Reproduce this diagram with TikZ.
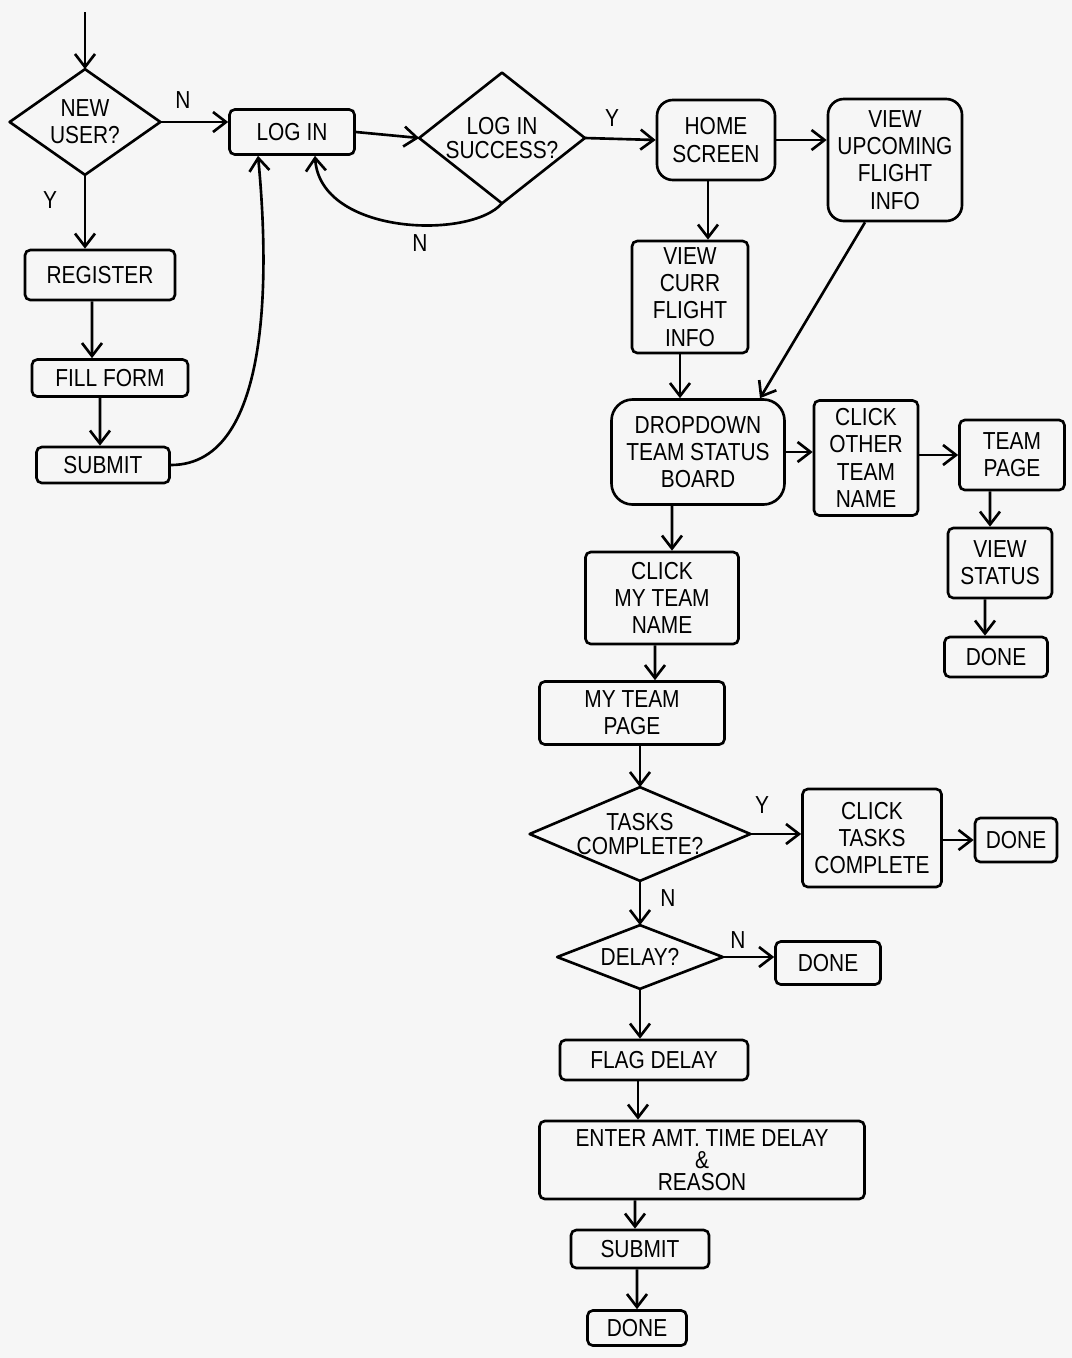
\documentclass[tikz,border=0pt]{standalone}
\usepackage{fontspec}
\setmainfont[FakeStretch=0.85]{Liberation Sans}
\usepackage{tikz}
\usetikzlibrary{arrows.meta}
\definecolor{paper}{HTML}{F6F6F6}
\newcommand{\hand}{\fontsize{14}{15.5}\selectfont}
\tikzset{
  fbox/.style ={rectangle, rounded corners=3pt, draw=black, line width=1.5pt,
                align=center, inner sep=2pt, font=\hand},
  rbox/.style ={fbox, rounded corners=9pt},
  dec/.style  ={rectangle, inner sep=0pt, align=center, font=\hand},
  dline/.style={draw=black, line width=1.5pt, line join=round},
  arr/.style  ={-{Straight Barb[length=2.6mm,width=4mm]}, line width=1.5pt},
  yn/.style   ={font=\hand, inner sep=1pt},
}
\newcommand{\diam}[1]{\path[dline] (#1.north) -- (#1.east) -- (#1.south) -- (#1.west) -- cycle;}

\begin{document}
\begin{tikzpicture}[x=0.2mm,y=-0.2mm]
  \path[fill=paper] (0,0) rectangle (1072,1358);

  % sign-up and log in
  \coordinate (start) at (85,12);
  \node[dec, minimum width=30mm, minimum height=21mm] (newuser) at (85,122) {NEW\\USER?};
  \diam{newuser}
  \node[fbox, minimum width=30mm, minimum height=10mm] (register) at (100,275) {REGISTER};
  \node[fbox, minimum width=31.2mm, minimum height=7.4mm] (fillform) at (110,378) {FILL FORM};
  \node[fbox, minimum width=26.6mm, minimum height=7.2mm] (submita) at (103,465) {SUBMIT};
  \node[fbox, minimum width=25mm, minimum height=9mm] (login) at (292,132) {LOG IN};
  \node[dec, minimum width=33mm, minimum height=26mm] (logok) at (502,138) {LOG IN\\[-2pt]SUCCESS?};
  \diam{logok}

  % home and flight info
  \node[rbox, minimum width=23.6mm, minimum height=16mm] (home) at (716,140) {HOME\\SCREEN};
  \node[rbox, minimum width=26.8mm, minimum height=24.4mm] (upcoming) at (895,160) {VIEW\\UPCOMING\\FLIGHT\\INFO};
  \node[fbox, minimum width=23.2mm, minimum height=22.4mm] (curr) at (690,297) {VIEW\\CURR\\FLIGHT\\INFO};
  \node[fbox, rounded corners=12pt, minimum width=34.6mm, minimum height=21mm] (dropdown) at (698,452) {DROPDOWN\\TEAM STATUS\\BOARD};

  % other team
  \node[fbox, minimum width=20.8mm, minimum height=23mm] (other) at (866,458) {CLICK\\OTHER\\TEAM\\NAME};
  \node[fbox, minimum width=21mm, minimum height=14mm] (teampage) at (1012,455) {TEAM\\PAGE};
  \node[fbox, minimum width=20.8mm, minimum height=14mm] (viewstatus) at (1000,563) {VIEW\\STATUS};
  \node[fbox, minimum width=20.6mm, minimum height=8mm] (donea) at (996,657) {DONE};

  % my team
  \node[fbox, minimum width=30.6mm, minimum height=18.4mm] (myname) at (662,598) {CLICK\\MY TEAM\\NAME};
  \node[fbox, minimum width=37mm, minimum height=12.6mm] (mypage) at (632,713) {MY TEAM\\PAGE};
  \node[dec, minimum width=44mm, minimum height=18.6mm] (tasks) at (640,834) {TASKS\\[-2pt]COMPLETE?};
  \diam{tasks}
  \node[fbox, minimum width=27.8mm, minimum height=19.6mm] (clicktasks) at (872,838) {CLICK\\TASKS\\COMPLETE};
  \node[fbox, minimum width=16.4mm, minimum height=8.8mm] (doneb) at (1016,840) {DONE};
  \node[dec, minimum width=33mm, minimum height=12.6mm] (delay) at (640,957) {DELAY?};
  \diam{delay}
  \node[fbox, minimum width=21mm, minimum height=8.6mm] (donec) at (828,963) {DONE};
  \node[fbox, minimum width=37.6mm, minimum height=8mm] (flag) at (654,1060) {FLAG DELAY};
  \node[fbox, minimum width=65mm, minimum height=15.6mm] (enter) at (702,1160) {ENTER AMT. TIME DELAY\\[-3pt]\&\\[-3pt]REASON};
  \node[fbox, minimum width=27.6mm, minimum height=7.6mm] (submitb) at (640,1249) {SUBMIT};
  \node[fbox, minimum width=19.8mm, minimum height=7mm] (doned) at (637,1328) {DONE};

  % Y / N labels
  \node[yn] (nnew)   at (183,100) {N};
  \node[yn] (ynew)   at (50,200)  {Y};
  \node[yn] (nlog)   at (420,243) {N};
  \node[yn] (ylog)   at (612,118) {Y};
  \node[yn] (ytasks) at (762,805) {Y};
  \node[yn] (ntasks) at (668,898) {N};
  \node[yn] (ndelay) at (738,940) {N};

  % connectors
  \draw[arr] (start) -- (newuser.north);
  \draw[arr] (newuser.east) -- (newuser.east -| login.west);
  \draw[arr] (newuser.south) -- (newuser.south |- register.north);
  \draw[arr] ([xshift=-1.6mm]register.south) -- ([xshift=-3.6mm]fillform.north);
  \draw[arr] ([xshift=-2mm]fillform.south) -- ([xshift=-0.6mm]submita.north);
  \draw[arr] (submita.east) .. controls (275,465) and (268,260) .. ([xshift=-6.8mm]login.south);
  \draw[arr] (login.east) -- (logok.west);
  \draw[arr] (logok.south) .. controls (470,240) and (320,235) .. ([xshift=4.6mm]login.south);
  \draw[arr] (logok.east) -- (home.west);
  \draw[arr] (home.east) -- (home.east -| upcoming.west);
  \draw[arr] ([xshift=-1.6mm]home.south) -- ([xshift=-1.6mm]home.south |- curr.north);
  \draw[arr] ([xshift=-2mm]curr.south) -- ([xshift=-2mm]curr.south |- dropdown.north);
  \draw[arr] ([xshift=-6mm]upcoming.south) -- ([xshift=12.4mm]dropdown.north);
  \draw[arr] (dropdown.east) -- (dropdown.east -| other.west);
  \draw[arr] (other.east |- teampage.west) -- (teampage.west);
  \draw[arr] ([xshift=-4.4mm]teampage.south) -- ([xshift=-2mm]viewstatus.north);
  \draw[arr] ([xshift=-3mm]viewstatus.south) -- ([xshift=-2.2mm]donea.north);
  \draw[arr] ([xshift=-5.2mm]dropdown.south) -- ([xshift=2mm]myname.north);
  \draw[arr] ([xshift=-1.4mm]myname.south) -- ([xshift=4.6mm]mypage.north);
  \draw[arr] (mypage.south -| tasks.north) -- (tasks.north);
  \draw[arr] (tasks.east) -- (tasks.east -| clicktasks.west);
  \draw[arr] (clicktasks.east |- doneb.west) -- (doneb.west);
  \draw[arr] (tasks.south) -- (delay.north);
  \draw[arr] (delay.east) -- (delay.east -| donec.west);
  \draw[arr] (delay.south) -- (delay.south |- flag.north);
  \draw[arr] ([xshift=-3.2mm]flag.south) -- ([xshift=-3.2mm]flag.south |- enter.north);
  \draw[arr] ([xshift=-13.4mm]enter.south) -- ([xshift=-1mm]submitb.north);
  \draw[arr] ([xshift=-0.6mm]submitb.south) -- (doned.north);
\end{tikzpicture}
\end{document}
